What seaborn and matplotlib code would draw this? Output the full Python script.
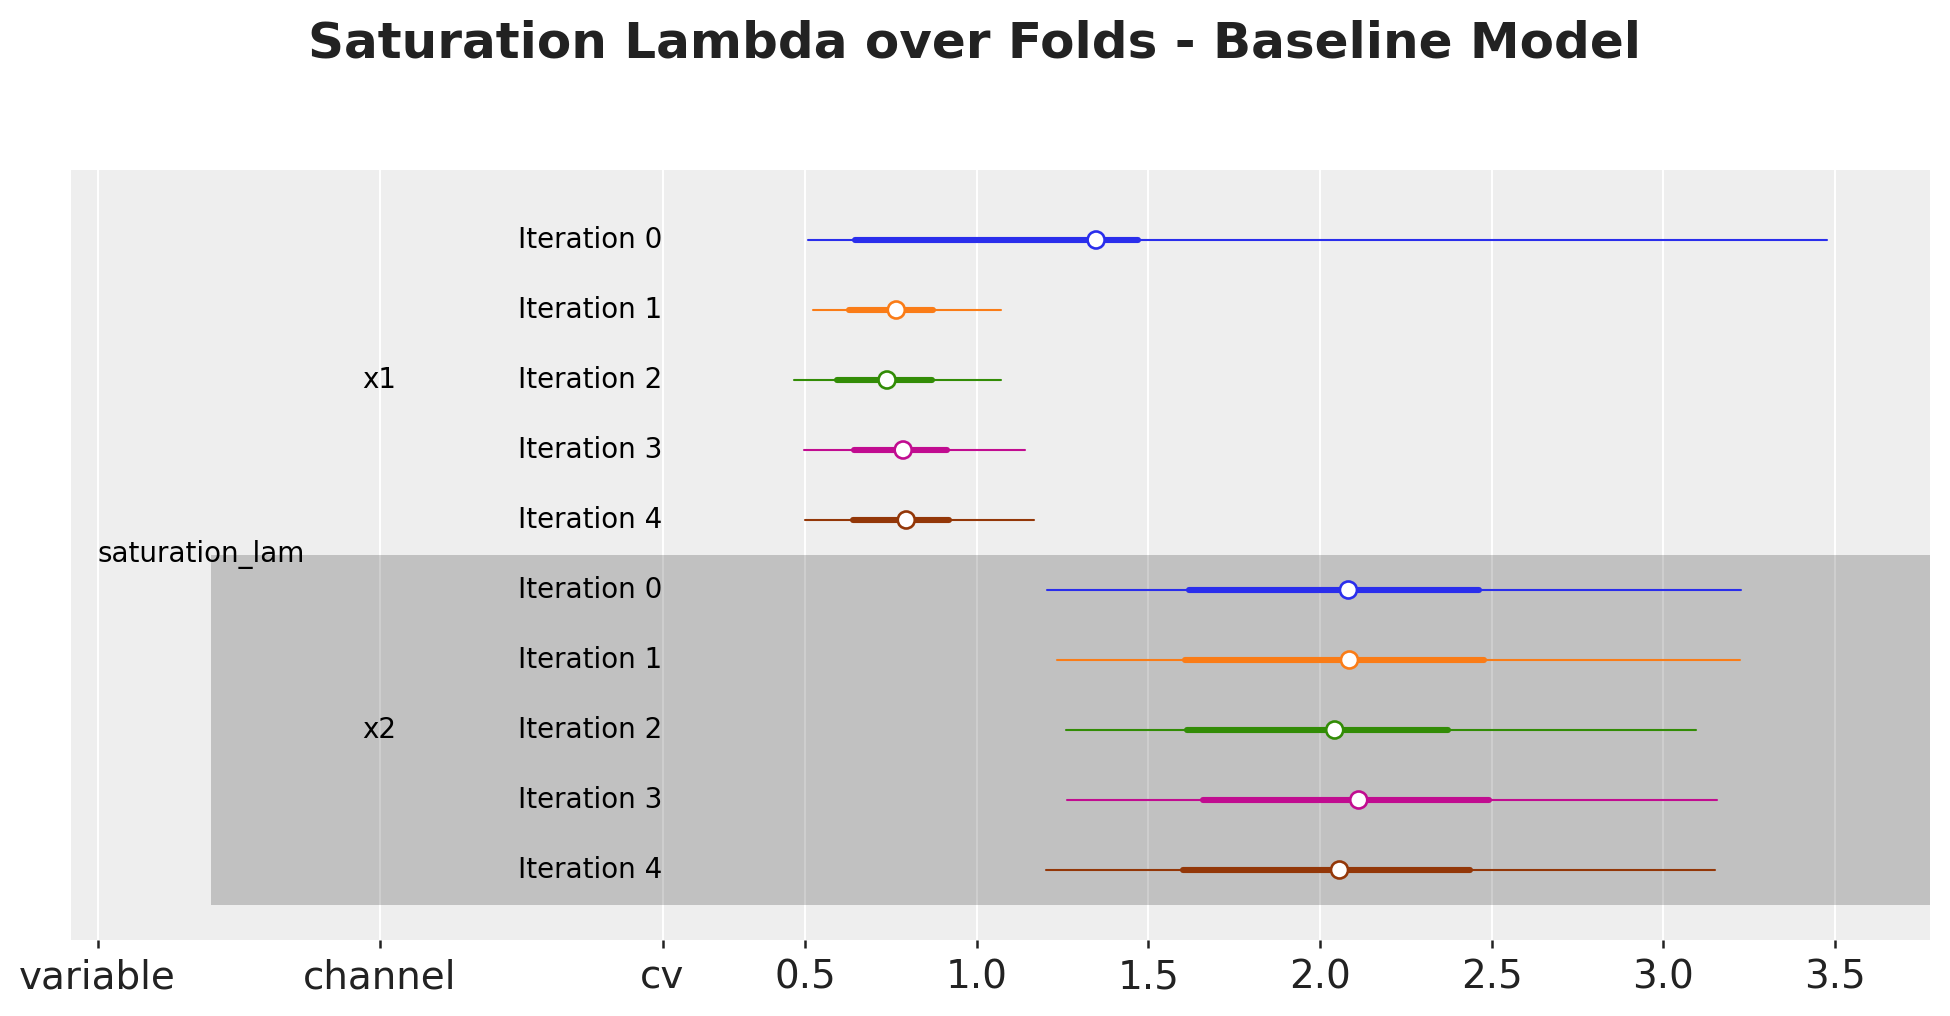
import numpy as np
import pandas as pd
import matplotlib
matplotlib.use("Agg")
import matplotlib.pyplot as plt
import seaborn as sns

# ---- data ----
variable = "saturation_lam"
channels = ["x1", "x2"]
iterations = ["Iteration 0", "Iteration 1", "Iteration 2", "Iteration 3", "Iteration 4"]
colors = ["#2a2eec", "#fa7c17", "#328c06", "#c10c90", "#933708"]

x1_median = [1.348, 0.766, 0.739, 0.786, 0.795]
x1_q_lo = [0.647, 0.627, 0.592, 0.643, 0.639]
x1_q_hi = [1.470, 0.873, 0.870, 0.913, 0.919]
x1_hdi_lo = [0.508, 0.522, 0.468, 0.498, 0.500]
x1_hdi_hi = [3.478, 1.070, 1.072, 1.142, 1.167]

x2_median = [2.083, 2.086, 2.043, 2.113, 2.057]
x2_q_lo = [1.619, 1.607, 1.612, 1.658, 1.600]
x2_q_hi = [2.464, 2.478, 2.373, 2.493, 2.438]
x2_hdi_lo = [1.204, 1.234, 1.260, 1.263, 1.201]
x2_hdi_hi = [3.226, 3.223, 3.095, 3.156, 3.150]

column_labels = ["variable", "channel", "cv"]
value_ticks = [0.5, 1.0, 1.5, 2.0, 2.5, 3.0, 3.5]

# ---- table ----
rows = []
for ch, med, qlo, qhi, hlo, hhi in [
    ("x1", x1_median, x1_q_lo, x1_q_hi, x1_hdi_lo, x1_hdi_hi),
    ("x2", x2_median, x2_q_lo, x2_q_hi, x2_hdi_lo, x2_hdi_hi),
]:
    for i, it in enumerate(iterations):
        rows.append(dict(channel=ch, iteration=it, median=med[i], q_lo=qlo[i],
                         q_hi=qhi[i], hdi_lo=hlo[i], hdi_hi=hhi[i]))
df = pd.DataFrame(rows)
df["row"] = np.arange(len(df))

sns.set_theme(style="darkgrid")
plt.rcParams["font.family"] = ["DejaVu Sans"]

fig = plt.figure(figsize=(19.5, 10.16), dpi=100)
ax = fig.add_axes([71 / 1950, 1 - 940 / 1016, (1930 - 71) / 1950, (940 - 170) / 1016])
ax.set_facecolor("#eeeeee")

x_cols = [-1.56, -0.739, 0.085]
xlim = (-1.638, 3.777)
ylim = (10.0, -1.0)

# shaded band for second channel
ax.axhspan(4.5, 9.5, xmin=(-1.23 - xlim[0]) / (xlim[1] - xlim[0]), xmax=1,
           color="black", alpha=0.19, lw=0, zorder=1)

pal = {it: c for it, c in zip(iterations, colors)}
for _, r in df.iterrows():
    c = pal[r["iteration"]]
    ax.plot([r["hdi_lo"], r["hdi_hi"]], [r["row"], r["row"]], color=c, lw=1.5,
            solid_capstyle="round", zorder=2)
    ax.plot([r["q_lo"], r["q_hi"]], [r["row"], r["row"]], color=c, lw=4.4,
            solid_capstyle="round", zorder=3)

sns.scatterplot(data=df, x="median", y="row", hue="iteration", palette=pal,
                s=150, linewidth=1.9, legend=False, zorder=4, ax=ax)
coll = ax.collections[-1]
fcs = coll.get_facecolors()
coll.set_edgecolors(fcs)
coll.set_facecolors("white")

# label columns
lab_fs = 20
ax.text(x_cols[0], 4.5, variable, ha="left", va="center", fontsize=lab_fs, color="black")
for k, ch in enumerate(channels):
    ax.text(x_cols[1], 2 + 5 * k, ch, ha="center", va="center", fontsize=lab_fs, color="black")
for _, r in df.iterrows():
    ax.text(x_cols[2], r["row"], r["iteration"], ha="right", va="center",
            fontsize=lab_fs, color="black")

ax.set_xlim(*xlim)
ax.set_ylim(*ylim)
ax.set_xticks(x_cols + value_ticks)
ax.set_xticklabels(column_labels + [f"{v:.1f}" for v in value_ticks])
ax.set_yticks([])
ax.set_xlabel("")
ax.set_ylabel("")
ax.grid(axis="x", color="white", lw=1.4)
ax.grid(axis="y", visible=False)
ax.set_axisbelow(True)
for s in ax.spines.values():
    s.set_visible(False)
ax.tick_params(axis="x", which="major", bottom=True, length=6, width=1.8,
               color="#222222", labelsize=28, labelcolor="#222222", pad=7)

fig.suptitle("Saturation Lambda over Folds - Baseline Model", fontsize=36,
             fontweight="bold", color="#222222", y=1 - 44 / 1016, va="center")

fig.savefig("out.png", dpi=100, facecolor="white")
